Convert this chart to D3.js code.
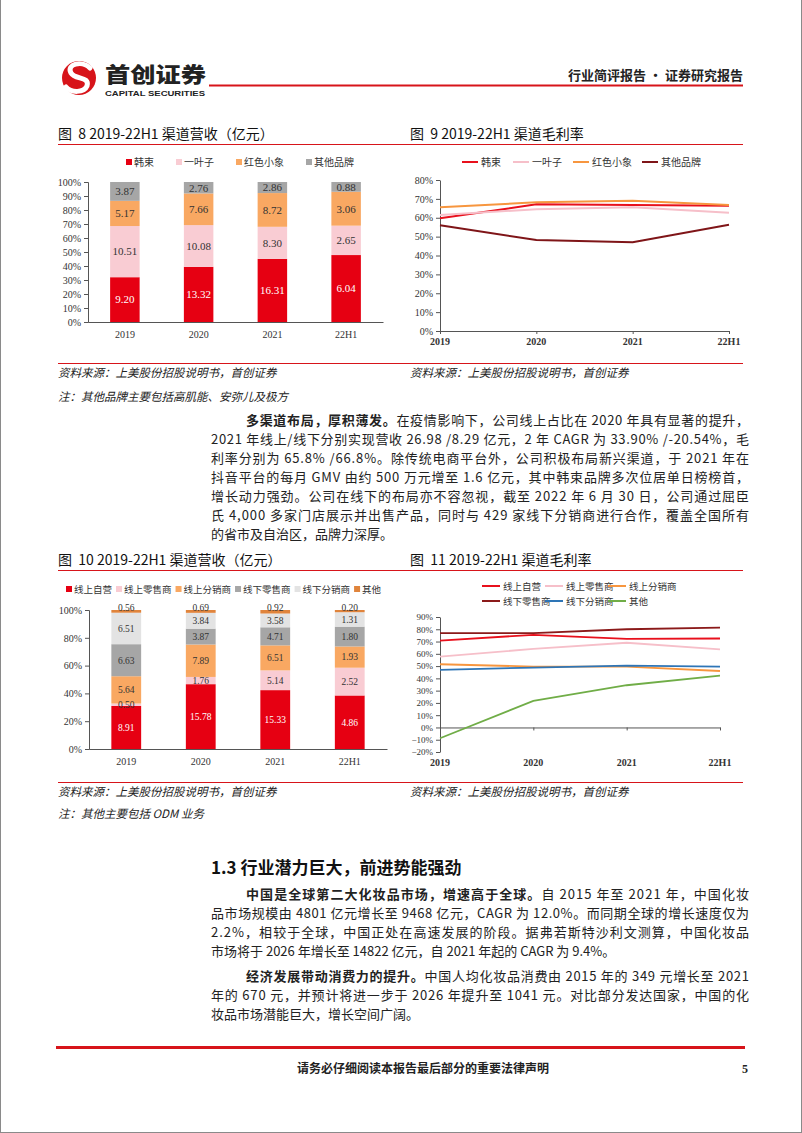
<!DOCTYPE html>
<html><head><meta charset="utf-8">
<script src="https://cdn.jsdelivr.net/npm/d3@7"></script>
<style>body{margin:0;background:#fff} svg{display:block} text{white-space:pre}</style>
</head><body><svg id="page" width="802" height="1133"></svg>
<script>
// ---------------- DATA ----------------
const years = ["2019","2020","2021","22H1"];
// 图8 渠道营收（亿元）by brand
const brandNames = ["韩束","一叶子","红色小象","其他品牌"];
const revHanshu = [9.20,13.32,16.31,6.04];
const revYiyezi = [10.51,10.08,8.30,2.65];
const revHongse = [5.17,7.66,8.72,3.06];
const revOtherBrand = [3.87,2.76,2.86,0.88];
// 图9 毛利率 by brand
const gmHanshu = [0.597,0.671,0.668,0.664];
const gmYiyezi = [0.615,0.645,0.655,0.627];
const gmHongse = [0.655,0.682,0.690,0.668];
const gmOtherBrand = [0.560,0.482,0.470,0.563];
// 图10 渠道营收（亿元）by channel
const channelNames = ["线上自营","线上零售商","线上分销商","线下零售商","线下分销商","其他"];
const revOnlineSelf = [8.91,15.78,15.33,4.86];
const revOnlineRetail = [0.50,1.76,5.14,2.52];
const revOnlineDist = [5.64,7.89,6.51,1.93];
const revOfflineRetail = [6.63,3.87,4.71,1.80];
const revOfflineDist = [6.51,3.84,3.58,1.31];
const revOther = [0.56,0.69,0.92,0.20];
// 图11 毛利率 by channel
const gmOnlineSelf = [0.707,0.755,0.721,0.725];
const gmOnlineRetail = [0.577,0.640,0.690,0.637];
const gmOnlineDist = [0.515,0.496,0.496,0.460];
const gmOfflineRetail = [0.768,0.768,0.800,0.813];
const gmOfflineDist = [0.469,0.488,0.504,0.496];
const gmOther = [-0.088,0.216,0.344,0.422];
// tick values
const ticks8 = [0,0.1,0.2,0.3,0.4,0.5,0.6,0.7,0.8,0.9,1.0];
const ticks9 = [0,0.1,0.2,0.3,0.4,0.5,0.6,0.7,0.8];
const ticks10 = [0,0.2,0.4,0.6,0.8,1.0];
const ticks11 = [-0.2,-0.1,0,0.1,0.2,0.3,0.4,0.5,0.6,0.7,0.8,0.9];

// ---------------- PAGE ----------------
const svg = d3.select("#page");
const CJK = "'Noto Sans CJK SC','Noto Sans',sans-serif";
const SERIF = "'Liberation Serif','Times New Roman',serif";
const RED = "#D7141A";

svg.append("rect").attr("x",0.5).attr("y",-2).attr("width",801).attr("height",1134.5)
  .attr("fill","none").attr("stroke","#8a8a8a");

// header logo
svg.append("circle").attr("cx",79).attr("cy",78).attr("r",17).attr("fill",RED);
svg.append("path").attr("d","M90,68 C82,60 66,64 71,73 C75,80 90,76 87,86 C84,93 71,93 66,87")
  .attr("fill","none").attr("stroke","#fff").attr("stroke-width",5).attr("stroke-linecap","round");
svg.append("text").attr("x",105).attr("y",82).attr("font-family",CJK).attr("font-weight",900)
  .attr("font-size",21).attr("textLength",101).attr("lengthAdjust","spacingAndGlyphs").attr("fill","#222").text("首创证券");
svg.append("text").attr("x",105).attr("y",96).attr("font-family","'Liberation Sans',Arial,sans-serif").attr("font-weight",700)
  .attr("font-size",8).attr("textLength",100).attr("lengthAdjust","spacingAndGlyphs").attr("fill","#222").text("CAPITAL SECURITIES");
svg.append("line").attr("x1",209).attr("x2",743).attr("y1",85.5).attr("y2",85.5).attr("stroke",RED).attr("stroke-width",2);
svg.append("text").attr("x",743).attr("y",80).attr("text-anchor","end").attr("font-family",CJK).attr("font-weight",700)
  .attr("font-size",13).attr("fill","#222").text("行业简评报告 · 证券研究报告");

// chart titles & rules
function title(x,y,t){
  svg.append("text").attr("x",x).attr("y",y).attr("font-family",CJK).attr("font-size",14).attr("fill","#111").text(t);
}
title(58,139,"图  8 2019-22H1 渠道营收（亿元）");
title(410,139,"图  9 2019-22H1 渠道毛利率");
title(58,565,"图  10 2019-22H1 渠道营收（亿元）");
title(410,565,"图  11 2019-22H1 渠道毛利率");
function rule(y,x1,x2,w){svg.append("line").attr("x1",x1).attr("x2",x2).attr("y1",y).attr("y2",y).attr("stroke",RED).attr("stroke-width",w||1);}
rule(144.5,58,743); rule(363.5,58,743); rule(570.5,58,743); rule(782.5,58,743);

function note(x,y,t){
  svg.append("text").attr("x",x).attr("y",y).attr("font-family",CJK).attr("font-style","italic")
    .attr("font-size",11.5).attr("fill","#222").text(t);
}
note(58,377,"资料来源：上美股份招股说明书，首创证券");
note(410,377,"资料来源：上美股份招股说明书，首创证券");
note(58,401,"注：其他品牌主要包括高肌能、安弥儿及极方");
note(58,796,"资料来源：上美股份招股说明书，首创证券");
note(410,796,"资料来源：上美股份招股说明书，首创证券");
note(58,818,"注：其他主要包括 ODM 业务");

// ---------------- CHART HELPERS ----------------
function styleAxis(a){
  a.select(".domain").attr("stroke","#555");
  a.selectAll(".tick line").attr("stroke","#555");
  a.selectAll("text").attr("font-family",SERIF).attr("fill","#333");
}
function squareLegend(items, x0, y, fs, gap){
  let x = x0;
  items.forEach(it=>{
    svg.append("rect").attr("x",x).attr("y",y-3).attr("width",6).attr("height",6).attr("fill",it.color);
    const t = svg.append("text").attr("x",x+8).attr("y",y+3.5).attr("font-family",CJK).attr("font-size",fs)
      .attr("fill","#333").text(it.name);
    x += 8 + t.node().getComputedTextLength() + gap;
  });
}
function stackedBars(opt){
  const g = svg.append("g");
  const keys = opt.series.map(s=>s.name);
  const rows = years.map((yr,i)=>{const o={year:yr}; opt.series.forEach(s=>o[s.name]=s.values[i]); return o;});
  const stacked = d3.stack().keys(keys).offset(d3.stackOffsetExpand)(rows);
  const x = d3.scaleBand().domain(years).range([opt.x0,opt.x1]).paddingInner(0.6).paddingOuter(0.3);
  const y = d3.scaleLinear().domain([0,1]).range([opt.yBot,opt.yTop]);
  stacked.forEach((layer,li)=>{
    g.selectAll(null).data(layer).join("rect")
      .attr("x",d=>x(d.data.year)).attr("width",x.bandwidth())
      .attr("y",d=>y(d[1])).attr("height",d=>y(d[0])-y(d[1]))
      .attr("fill",opt.series[li].color);
  });
  const nL = stacked.length;
  stacked.forEach((layer,li)=>{
    g.selectAll(null).data(layer).join("text")
      .attr("x",d=>x(d.data.year)+x.bandwidth()/2)
      .attr("y",d=>{
        const h = y(d[0])-y(d[1]);
        // very thin top segment: keep label at the bar's top edge
        const c = (li===nL-1 && h<5) ? y(d[1])-2 : (y(d[0])+y(d[1]))/2;
        return c+opt.labFs*0.35;
      })
      .attr("text-anchor","middle").attr("font-family",SERIF).attr("font-size",opt.labFs)
      .attr("fill",opt.series[li].label)
      .text(d=>d.data[layer.key].toFixed(2));
  });
  const ya = g.append("g").attr("transform",`translate(${opt.x0},0)`)
    .call(d3.axisLeft(y).tickValues(opt.ticks).tickFormat(d3.format(".0%")).tickSize(4).tickPadding(3));
  styleAxis(ya); ya.selectAll("text").attr("font-size",10);
  const xa = g.append("g").attr("transform",`translate(0,${opt.yBot})`)
    .call(d3.axisBottom(x).tickSize(0).tickPadding(9).tickSizeOuter(0));
  styleAxis(xa); xa.selectAll("text").attr("font-size",10);
  squareLegend(opt.series, opt.legX, opt.legY, opt.legFs, opt.legGap);
}
function lineChart(opt){
  const g = svg.append("g");
  const x = d3.scalePoint().domain(years).range([opt.x0,opt.x1]);
  const y = d3.scaleLinear().domain(opt.domain).range([opt.yBot,opt.yTop]);
  const ya = g.append("g").attr("transform",`translate(${opt.x0},0)`)
    .call(d3.axisLeft(y).tickValues(opt.ticks).tickFormat(d3.format(".0%")).tickSize(4).tickPadding(3).tickSizeOuter(0));
  styleAxis(ya); ya.selectAll("text").attr("font-size",opt.tickFs);
  const xa = g.append("g").attr("transform",`translate(0,${y(0)})`)
    .call(d3.axisBottom(x).tickSize(3).tickFormat("").tickSizeOuter(0));
  styleAxis(xa);
  g.selectAll(null).data(years).join("text")
    .attr("x",d=>x(d)).attr("y",opt.yBot+14).attr("text-anchor","middle")
    .attr("font-family",SERIF).attr("font-weight",700).attr("font-size",10).attr("fill","#333").text(d=>d);
  const line = d3.line().x((d,i)=>x(years[i])).y(d=>y(d));
  opt.series.forEach(s=>{
    g.append("path").datum(s.values).attr("d",line).attr("fill","none")
      .attr("stroke",s.color).attr("stroke-width",opt.sw);
  });
  // legend
  opt.series.forEach((s,i)=>{
    const col = i % opt.legCols, row = Math.floor(i/opt.legCols);
    let lx, ly = opt.legY + row*opt.legRowH;
    if(opt.legColW){ lx = opt.legX + col*opt.legColW; }
    else { lx = opt.legPos[i]; }
    svg.append("line").attr("x1",lx).attr("x2",lx+opt.legLen).attr("y1",ly).attr("y2",ly)
      .attr("stroke",s.color).attr("stroke-width",2);
    svg.append("text").attr("x",lx+opt.legLen+3).attr("y",ly+3.5).attr("font-family",CJK)
      .attr("font-size",opt.legFs).attr("fill","#333").text(s.name);
  });
}

// ---------------- CHARTS ----------------
stackedBars({
  series:[
    {name:brandNames[0],values:revHanshu,color:"#E60012",label:"#fff"},
    {name:brandNames[1],values:revYiyezi,color:"#F9CCD3",label:"#333"},
    {name:brandNames[2],values:revHongse,color:"#F9A862",label:"#333"},
    {name:brandNames[3],values:revOtherBrand,color:"#A6A6A6",label:"#333"}],
  x0:88,x1:383,yTop:182,yBot:322,ticks:ticks8,legX:126,legY:162,legFs:10,legGap:22,labFs:11
});
lineChart({
  series:[
    {name:brandNames[0],values:gmHanshu,color:"#E8101C"},
    {name:brandNames[1],values:gmYiyezi,color:"#F6BFC9"},
    {name:brandNames[2],values:gmHongse,color:"#F7963F"},
    {name:brandNames[3],values:gmOtherBrand,color:"#7F1518"}],
  x0:440,x1:729,yTop:180,yBot:331,domain:[0,0.8],ticks:ticks9,tickFs:10,sw:2,
  legCols:4,legY:162,legRowH:0,legPos:[462,513,573,642],legLen:16,legFs:10
});
stackedBars({
  series:[
    {name:channelNames[0],values:revOnlineSelf,color:"#E60012",label:"#fff"},
    {name:channelNames[1],values:revOnlineRetail,color:"#F9CCD3",label:"#333"},
    {name:channelNames[2],values:revOnlineDist,color:"#F9A862",label:"#333"},
    {name:channelNames[3],values:revOfflineRetail,color:"#A6A6A6",label:"#333"},
    {name:channelNames[4],values:revOfflineDist,color:"#E3E3E3",label:"#333"},
    {name:channelNames[5],values:revOther,color:"#E0843C",label:"#333"}],
  x0:89,x1:387,yTop:610,yBot:749,ticks:ticks10,legX:66,legY:589,legFs:9.5,legGap:4,labFs:9.5
});
lineChart({
  series:[
    {name:channelNames[0],values:gmOnlineSelf,color:"#E8101C"},
    {name:channelNames[1],values:gmOnlineRetail,color:"#F6BFC9"},
    {name:channelNames[2],values:gmOnlineDist,color:"#F7963F"},
    {name:channelNames[3],values:gmOfflineRetail,color:"#8B1A1A"},
    {name:channelNames[4],values:gmOfflineDist,color:"#2E75B6"},
    {name:channelNames[5],values:gmOther,color:"#70AD47"}],
  x0:440,x1:720,yTop:617,yBot:752,domain:[-0.2,0.9],ticks:ticks11,tickFs:9,sw:1.8,
  legCols:3,legX:482,legColW:63,legY:586,legRowH:15,legLen:18,legFs:9.5
});

// ---------------- BODY TEXT ----------------
function textLine(x,y,parts,width){
  const t = svg.append("text").attr("x",x).attr("y",y).attr("font-family",CJK).attr("font-size",13).attr("fill","#222");
  parts.forEach(p=>t.append("tspan").attr("font-weight",p.b?700:400).text(p.t));
  if(width) t.attr("textLength",width).attr("lengthAdjust","spacing");
}
const L = 211, R = 749, IND = 246;
const p1 = [
  [[{b:1,t:"多渠道布局，厚积薄发。"},{t:"在疫情影响下，公司线上占比在 2020 年具有显著的提升，"}],true],
  [[{t:"2021 年线上/线下分别实现营收 26.98 /8.29 亿元，2 年 CAGR 为 33.90% /-20.54%，毛"}]],
  [[{t:"利率分别为 65.8% /66.8%。除传统电商平台外，公司积极布局新兴渠道，于 2021 年在"}]],
  [[{t:"抖音平台的每月 GMV 由约 500 万元增至 1.6 亿元，其中韩束品牌多次位居单日榜榜首，"}]],
  [[{t:"增长动力强劲。公司在线下的布局亦不容忽视，截至 2022 年 6 月 30 日，公司通过屈臣"}]],
  [[{t:"氏 4,000 多家门店展示并出售产品，同时与 429 家线下分销商进行合作，覆盖全国所有"}]],
  [[{t:"的省市及自治区，品牌力深厚。"}],false,true]
];
function para(lines,y0,step){
  lines.forEach((ln,i)=>{
    const indent = ln[1]===true, last = ln[2]===true;
    const x = indent?IND:L;
    textLine(x,y0+i*step,ln[0], last?null:(R-x));
  });
}
para(p1,424.5,19);
svg.append("text").attr("x",211).attr("y",874).attr("font-family",CJK).attr("font-weight",700)
  .attr("font-size",17).attr("fill","#111").text("1.3 行业潜力巨大，前进势能强劲");
para([
  [[{b:1,t:"中国是全球第二大化妆品市场，增速高于全球。"},{t:"自 2015 年至 2021 年，中国化妆"}],true],
  [[{t:"品市场规模由 4801 亿元增长至 9468 亿元，CAGR 为 12.0%。而同期全球的增长速度仅为"}]],
  [[{t:"2.2%，相较于全球，中国正处在高速发展的阶段。据弗若斯特沙利文测算，中国化妆品"}]],
  [[{t:"市场将于 2026 年增长至 14822 亿元，自 2021 年起的 CAGR 为 9.4%。"}],false,true]
],898.5,19);
para([
  [[{b:1,t:"经济发展带动消费力的提升。"},{t:"中国人均化妆品消费由 2015 年的 349 元增长至 2021"}],true],
  [[{t:"年的 670 元，并预计将进一步于 2026 年提升至 1041 元。对比部分发达国家，中国的化"}]],
  [[{t:"妆品市场潜能巨大，增长空间广阔。"}],false,true]
],980.5,19);

// footer
rule(1047.5,56,745,3);
svg.append("text").attr("x",423).attr("y",1073).attr("text-anchor","middle").attr("font-family",CJK)
  .attr("font-weight",700).attr("font-size",12).attr("fill","#222").text("请务必仔细阅读本报告最后部分的重要法律声明");
svg.append("text").attr("x",745).attr("y",1073).attr("text-anchor","middle").attr("font-family",SERIF)
  .attr("font-weight",700).attr("font-size",12).attr("fill","#222").text("5");
</script></body></html>
